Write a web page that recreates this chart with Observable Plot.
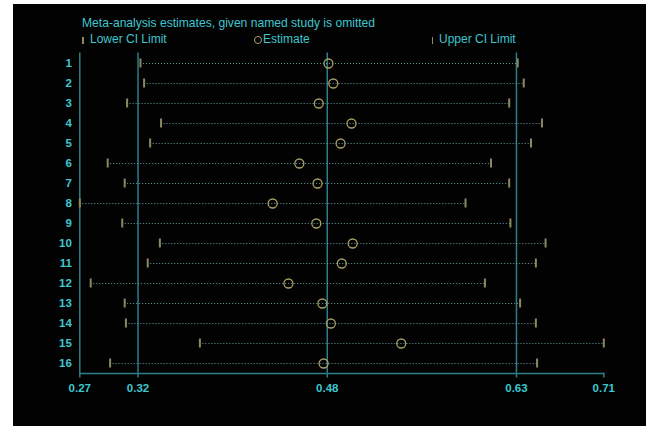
<!DOCTYPE html>
<html>
<head>
<meta charset="utf-8">
<script src="https://cdn.jsdelivr.net/npm/d3@7"></script>
<script src="https://cdn.jsdelivr.net/npm/@observablehq/plot@0.6"></script>
<style>
  html, body { margin: 0; padding: 0; background: #ffffff; }
  body { width: 651px; height: 426px; overflow: hidden; position: relative; font-family: "Liberation Sans", Arial, sans-serif; }
  #panel { position: absolute; left: 13px; top: 4px; width: 633px; height: 422px; background: #020202; overflow: hidden; }
  .txt { position: absolute; white-space: nowrap; color: #3fc6cf; font-size: 12px; line-height: 12px; }
  .bar { position: absolute; width: 1.5px; height: 7px; background: #8c8960; }
  .circ { position: absolute; width: 6px; height: 6px; border: 1.2px solid #a79f68; border-radius: 50%; }
  #chart { position: absolute; left: 0; top: 44px; }
</style>
</head>
<body>
<div id="panel">
  <div class="txt" id="title" style="left:69px;top:13px;font-size:12.1px;">Meta-analysis estimates, given named study is omitted</div>
  <div class="bar" style="left:69px;top:32.5px;"></div>
  <div class="txt" style="left:77px;top:29px;">Lower CI Limit</div>
  <div class="circ" style="left:240.5px;top:32px;"></div>
  <div class="txt" style="left:250px;top:29px;">Estimate</div>
  <div class="bar" style="left:418.5px;top:32.5px;"></div>
  <div class="txt" style="left:426px;top:29px;">Upper CI Limit</div>
  <div id="chart"></div>
</div>
<script>
// Study omitted (row labels)
const studies = ["1","2","3","4","5","6","7","8","9","10","11","12","13","14","15","16"];
// Lower CI limit when the study is omitted
const lowerCI = [0.324, 0.327, 0.313, 0.341, 0.332, 0.297, 0.311, 0.274, 0.309, 0.340, 0.330, 0.283, 0.311, 0.312, 0.373, 0.299];
// Estimate when the study is omitted
const estimate = [0.479, 0.483, 0.471, 0.498, 0.489, 0.455, 0.470, 0.433, 0.469, 0.499, 0.490, 0.446, 0.474, 0.481, 0.539, 0.475];
// Upper CI limit when the study is omitted
const upperCI = [0.635, 0.640, 0.628, 0.655, 0.646, 0.613, 0.628, 0.592, 0.629, 0.658, 0.650, 0.608, 0.637, 0.650, 0.706, 0.651];
// Overall (all studies) lower CI, estimate, upper CI
const overall = [0.322, 0.478, 0.634];
// Axis tick values (min lower, overall lower, estimate, upper, max upper)
const axisMin = 0.274, axisMax = 0.706;
const xTicks = [axisMin, ...overall, axisMax];

const data = studies.map((s, i) => ({study: s, lower: lowerCI[i], est: estimate[i], upper: upperCI[i]}));

const teal = "#2d7f8a";
const cyan = "#3fc6cf";
const olive = "#8c8960";
const circ = "#a79f68";
const dotted = "#6c9ea5";

const chart = Plot.plot({
  width: 633,
  height: 378,
  marginTop: 4.5,
  marginBottom: 53.5,
  marginLeft: 66.3,
  marginRight: 42.7,
  style: {background: "transparent", color: cyan, fontFamily: "'Liberation Sans', Arial, sans-serif"},
  x: {type: "linear", domain: [axisMin, axisMax], axis: null},
  y: {type: "band", domain: studies, padding: 0, axis: null},
  marks: [
    Plot.ruleX(overall, {stroke: teal, strokeWidth: 1.5}),
    Plot.ruleX([axisMin], {stroke: teal, strokeWidth: 1.5}),
    Plot.ruleY([studies[studies.length - 1]], {y: d => d, x1: axisMin, x2: axisMax, dy: 10, stroke: teal, strokeWidth: 1.5}),
    Plot.ruleY(data, {y: "study", x1: "lower", x2: "upper", stroke: dotted, strokeWidth: 1, strokeDasharray: "1,2"}),
    Plot.tickX(data, {y: "study", x: "lower", stroke: olive, strokeWidth: 2, insetTop: 5.5, insetBottom: 5.5}),
    Plot.tickX(data, {y: "study", x: "upper", stroke: olive, strokeWidth: 2, insetTop: 5.5, insetBottom: 5.5}),
    Plot.dot(data, {y: "study", x: "est", r: 4.5, stroke: circ, strokeWidth: 1.3, fill: "none"}),
    Plot.axisX({ticks: xTicks, tickFormat: d3.format(".2f"), tickSize: 5, tickPadding: 5.5, stroke: teal, strokeWidth: 1.5, fill: cyan, fontSize: 11.5, fontWeight: "bold", label: null}),
    Plot.axisY({tickSize: 0, tickPadding: 8, fill: cyan, fontSize: 11.5, fontWeight: "bold", label: null})
  ]
});
document.getElementById("chart").appendChild(chart);
</script>
</body>
</html>
